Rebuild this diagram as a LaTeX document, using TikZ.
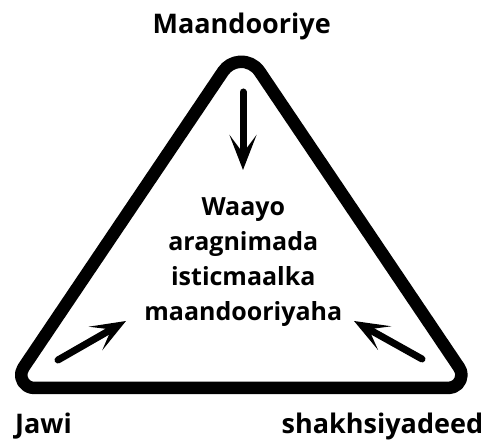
\documentclass[tikz,border=0pt]{standalone}
\usepackage{fontspec}
\setmainfont{Open Sans}
\usetikzlibrary{arrows.meta,calc}
\begin{document}
\begin{tikzpicture}[x=1pt,y=1pt,
  lbl/.style={font=\fontsize{27}{32}\selectfont\bfseries, inner sep=0pt},
  mid/.style={font=\fontsize{25}{30}\selectfont\bfseries, inner sep=0pt},
  tri/.style={line width=12.5pt, line join=round},
  inarrow/.style={line width=7pt, line cap=round, -{Stealth[length=35pt,width=27pt,inset=18pt]}}]
\useasboundingbox (0,0) rectangle (501,443);
\coordinate (Ca) at (241.3,359.23);
\coordinate (Cl) at (34.14,68);
\coordinate (Cr) at (448.46,68);
\draw[tri] ($(Cl)+(270:13)$) -- ($(Cr)+(270:13)$)
  arc[start angle=270,end angle=394,radius=13]
  -- ($(Ca)+(34:22)$) arc[start angle=34,end angle=146,radius=22]
  -- ($(Cl)+(146:13)$) arc[start angle=146,end angle=270,radius=13] -- cycle;
\node[lbl,anchor=base] (top) at (241.7,409.7) {Maandooriye};
\node[lbl,anchor=base west] (jawi) at (15,9.7) {Jawi};
\node[lbl,anchor=base east] (shakh) at (483.3,9.7) {shakhsiyadeed};
\node[mid,anchor=base] (c1) at (243.3,227) {Waayo};
\node[mid,anchor=base] (c2) at (243.3,192.3) {aragnimada};
\node[mid,anchor=base] (c3) at (243.3,157.3) {isticmaalka};
\node[mid,anchor=base] (c4) at (243.3,122.3) {maandooriyaha};
\coordinate (t1) at (243,351); \coordinate (h1) at (243,273);
\coordinate (t2) at (58,83);   \coordinate (h2) at (126,122);
\coordinate (t3) at (422,84);  \coordinate (h3) at (354,122);
\draw[inarrow] (t1) -- (h1);
\draw[inarrow] (t2) -- (h2);
\draw[inarrow] (t3) -- (h3);
\end{tikzpicture}
\end{document}
